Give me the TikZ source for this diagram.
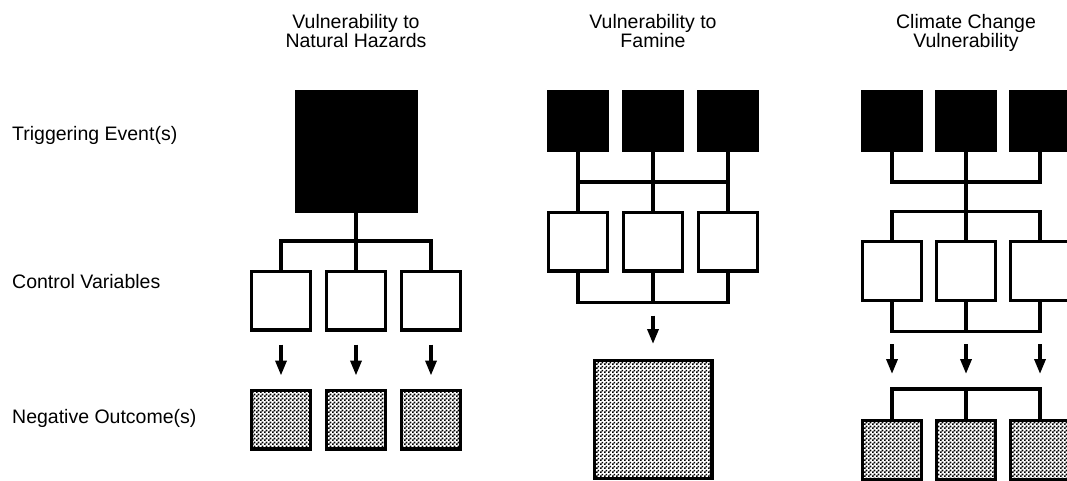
\documentclass[tikz,border=0pt]{standalone}
\usepackage{fontspec}
\setmainfont{Liberation Sans}
\usetikzlibrary{arrows.meta,positioning,patterns}
\pgfdeclarepatternformonly{finechecks}{\pgfpointorigin}{\pgfqpoint{4pt}{4pt}}{\pgfqpoint{4pt}{4pt}}{%
\pgfpathrectangle{\pgfpointorigin}{\pgfqpoint{2pt}{2pt}}%
\pgfpathrectangle{\pgfqpoint{2pt}{2pt}}{\pgfqpoint{2pt}{2pt}}%
\pgfusepath{fill}}
\tikzset{
event/.style={draw,fill=black,line width=3.4pt,minimum size=58.6pt,inner sep=0pt},
ctrl/.style={draw,fill=white,line width=3.4pt,minimum size=58.6pt,inner sep=0pt},
outcome/.style={draw,pattern=finechecks,line width=3.4pt,minimum size=58.6pt,inner sep=0pt},
link/.style={line width=3.4pt},
arrow/.style={-{Triangle[length=15pt,width=11pt]},line width=3.4pt},
lbl/.style={font=\fontsize{19.5}{19}\selectfont,inner sep=0pt}
}

\begin{document}
\begin{tikzpicture}[x=1pt,y=-1pt,node distance=13pt]
\clip (0,0) rectangle (1067,481);
% row labels
\node[lbl,anchor=base west] (rowtrig) at (12,141) {Triggering Event(s)};
\node[lbl,anchor=base west] (rowctrl) at (12,288) {Control Variables};
\node[lbl,anchor=base west] (rowout) at (12,423) {Negative Outcome(s)};
% column titles
\node[lbl,anchor=north,align=center] (head1) at (356,14) {Vulnerability to\\Natural Hazards};
\node[lbl,anchor=north,align=center] (head2) at (653,14) {Vulnerability to\\Famine};
\node[lbl,anchor=north,align=center] (head3) at (966,14) {Climate Change\\Vulnerability};
% natural hazards
\node[event,minimum size=119.6pt] (e1) at (356,151.5) {};
\node[ctrl] (c11) at (281,300.5) {};
\node[ctrl,right=of c11] (c12) {};
\node[ctrl,right=of c12] (c13) {};
\node[outcome] (o11) at (281,419.5) {};
\node[outcome,right=of o11] (o12) {};
\node[outcome,right=of o12] (o13) {};
\coordinate (j1) at (356,241);
\draw[link] (e1) -- (c12);
\draw[link] (c11.north) |- (j1) -| (c13.north);
\foreach \i in {1,2,3} \draw[arrow,shorten <=13pt,shorten >=13pt] (c1\i) -- (o1\i);
% famine
\node[event] (e21) at (578,121) {};
\node[event,right=of e21] (e22) {};
\node[event,right=of e22] (e23) {};
\node[ctrl] (c21) at (578,241.5) {};
\node[ctrl,right=of c21] (c22) {};
\node[ctrl,right=of c22] (c23) {};
\node[outcome,minimum size=117.6pt] (o2) at (653,419.5) {};
\coordinate (j2) at (653,182);
\coordinate (k2) at (653,302.5);
\foreach \i in {1,2,3} \draw[link] (e2\i) -- (c2\i);
\draw[link] (e21 |- j2) -- (e23 |- j2);
\draw[link] (c21.south) |- (k2) -| (c23.south);
\draw[link] (c22) -- (k2);
\draw[arrow,shorten <=13pt,shorten >=15pt] (k2) -- (o2);
% climate change
\node[event] (e31) at (892,121) {};
\node[event,right=12pt of e31] (e32) {};
\node[event,right=12pt of e32] (e33) {};
\node[ctrl] (c31) at (892,271) {};
\node[ctrl,right=12pt of c31] (c32) {};
\node[ctrl,right=12pt of c32] (c33) {};
\node[outcome] (o31) at (892,450) {};
\node[outcome,right=12pt of o31] (o32) {};
\node[outcome,right=12pt of o32] (o33) {};
\coordinate (j3) at (966,182);
\coordinate (k3) at (966,211.5);
\coordinate (m3) at (966,331.5);
\coordinate (n3) at (966,389);
\draw[link] (e31.south) |- (j3) -| (e33.south);
\draw[link] (e32) -- (k3);
\draw[link] (c31.north) |- (k3) -| (c33.north);
\draw[link] (c32) -- (k3);
\draw[link] (c31.south) |- (m3) -| (c33.south);
\draw[link] (c32) -- (m3);
\foreach \i in {1,2,3} \draw[arrow,shorten <=12.5pt,shorten >=15pt] (c3\i.south |- m3) -- (c3\i.south |- n3);
\draw[link] (o31.north) |- (n3) -| (o33.north);
\draw[link] (o32) -- (n3);
\end{tikzpicture}
\end{document}
